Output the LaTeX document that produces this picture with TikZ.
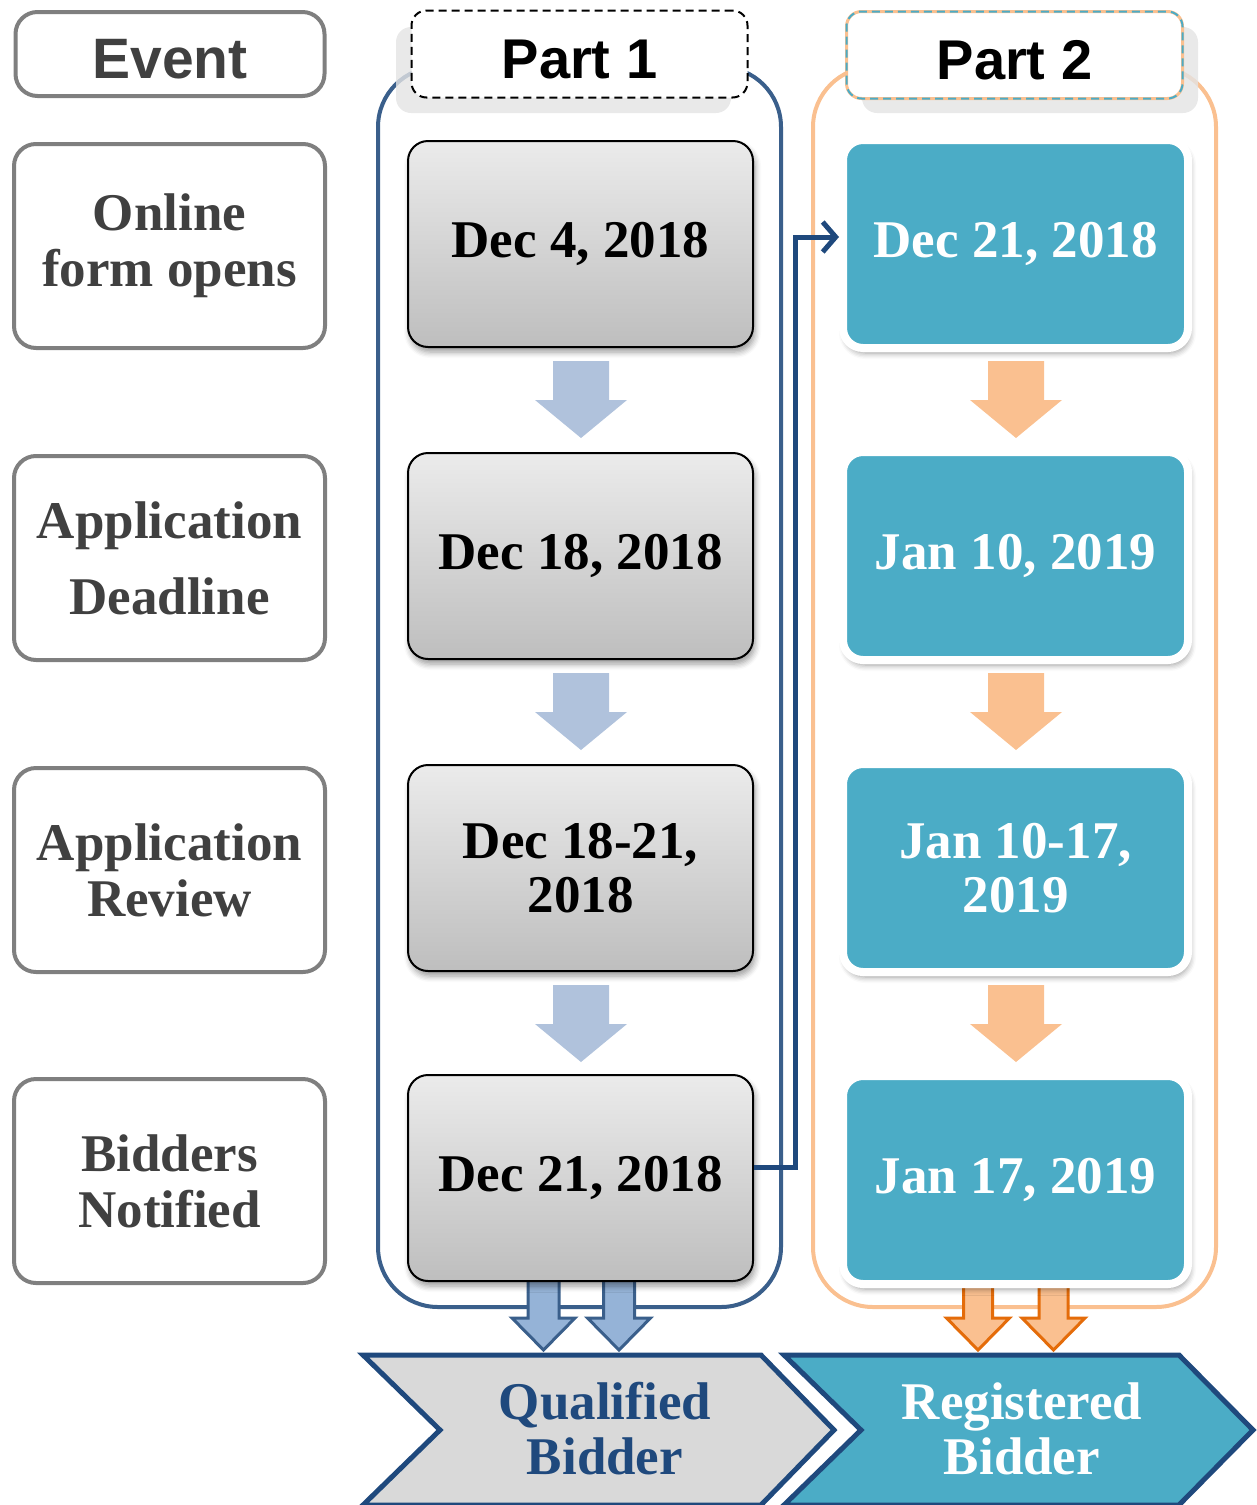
\documentclass[tikz,border=0pt]{standalone}
\usepackage{fontspec}
\setmainfont{Liberation Serif}
\setsansfont{Liberation Sans}
\usetikzlibrary{shadows.blur}
\usetikzlibrary{arrows.meta}
\definecolor{evgray}{HTML}{7F7F7F}
\definecolor{evtext}{HTML}{404040}
\definecolor{partblue}{HTML}{3A5F8B}
\definecolor{darkblue}{HTML}{1F497D}
\definecolor{arrblue}{HTML}{B0C2DC}
\definecolor{downblue}{HTML}{95B3D7}
\definecolor{peach}{HTML}{FAC090}
\definecolor{darkorange}{HTML}{E46C0A}
\definecolor{tealc}{HTML}{4BACC6}
\definecolor{chevgray}{HTML}{D9D9D9}
\definecolor{hdshadow}{HTML}{E4E4E4}
\definecolor{boxtop}{HTML}{EBEBEB}
\definecolor{boxbot}{HTML}{BEBEBE}
\tikzset{%
	event/.style={draw=evgray,line width=4pt,rounded corners=22pt,fill=white,
		minimum width=311pt,minimum height=204pt,text=evtext,align=center,
		font=\bfseries\fontsize{53}{56}\selectfont},
	header/.style={draw,line width=2pt,fill=white,rounded corners=15pt,outer sep=0pt,
		minimum width=336pt,minimum height=87pt,text height=48pt,text depth=0pt,
		font=\sffamily\bfseries\fontsize{56}{60}\selectfont},
	datebox/.style={draw=black,line width=2pt,rounded corners=20pt,
		top color=boxtop,bottom color=boxbot,
		blur shadow={shadow xshift=2pt,shadow yshift=-5pt,shadow blur radius=6pt,shadow blur steps=5},
		minimum width=345pt,minimum height=206pt,align=center,
		font=\bfseries\fontsize{53}{54}\selectfont},
	tealbox/.style={draw=white,line width=8pt,rounded corners=20pt,fill=tealc,
		blur shadow={shadow xshift=2pt,shadow yshift=-5pt,shadow blur radius=6pt,shadow blur steps=5},
		minimum width=345pt,minimum height=208pt,align=center,text=white,
		font=\bfseries\fontsize{53}{54}\selectfont},
	chevron/.style={draw=darkblue,line width=5pt},
	result/.style={align=center,font=\bfseries\fontsize{53}{55}\selectfont}
}

\begin{document}
\begin{tikzpicture}[x=1pt,y=-1pt]
	\useasboundingbox (0,0) rectangle (1257,1505);

	% event column
	\node [event,minimum width=309pt,minimum height=84pt,text height=49pt,text depth=0pt,
		font=\sffamily\bfseries\fontsize{57}{60}\selectfont] (event) at (170,54) {Event};
	\node [event] (e1) at (169.5,246) {Online\\form opens};
	\node [event] (e2) at (169.5,558) {Application\\[20pt]Deadline};
	\node [event] (e3) at (169.5,870) {Application\\Review};
	\node [event] (e4) at (169.5,1181) {Bidders\\Notified};

	% part frames
	\draw [partblue,line width=4pt,rounded corners=60pt] (378,67) rectangle (781,1307);
	\draw [peach,line width=4pt,rounded corners=60pt] (813,67) rectangle (1216,1307);

	\fill [hdshadow,opacity=0.8,rounded corners=15pt] (396,27) rectangle (731,113);
	\fill [hdshadow,opacity=0.8,rounded corners=15pt] (862,27) rectangle (1198,113);

	\node [header,dash pattern=on 8pt off 5pt] (p1) at (579.5,54) {Part 1};
	\node [header,draw=peach,line width=3pt] (p2) at (1014.5,55) {Part 2};
	\draw [tealc,line width=2pt,dash pattern=on 8pt off 5pt,rounded corners=15pt] (p2.south west) rectangle (p2.north east);

	% arrows out of the frames
	\foreach \x in {543.5,619}
		\draw [partblue,fill=downblue,line width=3pt] (\x-15.5,1270)--(\x+15.5,1270)--(\x+15.5,1318)--(\x+31.5,1318)
			--(\x,1350)--(\x-31.5,1318)--(\x-15.5,1318)--cycle;
	\foreach \x in {978,1053.5}
		\draw [darkorange,fill=peach,line width=3pt] (\x-14.5,1270)--(\x+14.5,1270)--(\x+14.5,1318)--(\x+31.5,1318)
			--(\x,1350)--(\x-31.5,1318)--(\x-14.5,1318)--cycle;

	% dates
	\node [datebox] (d1) at (580.5,244) {Dec 4, 2018};
	\node [datebox] (d2) at (580.5,556) {Dec 18, 2018};
	\node [datebox] (d3) at (580.5,868) {Dec 18-21,\\2018};
	\node [datebox] (d4) at (580.5,1178) {Dec 21, 2018};

	\node [tealbox] (t1) at (1015.5,244) {Dec 21, 2018};
	\node [tealbox] (t2) at (1015.5,556) {Jan 10, 2019};
	\node [tealbox] (t3) at (1015.5,868) {Jan 10-17,\\2019};
	\node [tealbox] (t4) at (1015.5,1180) {Jan 17, 2019};

	\foreach \y in {361,673,985} {
		\fill [arrblue] (553,\y)--(609,\y)--(609,\y+39)--(627,\y+39)--(581,\y+77)--(535,\y+39)--(553,\y+39)--cycle;
		\fill [peach] (988,\y)--(1044,\y)--(1044,\y+39)--(1062,\y+39)--(1016,\y+77)--(970,\y+39)--(988,\y+39)--cycle;
	}

	\draw [darkblue,line width=5pt,line join=miter,-{Straight Barb[length=13pt,width=30pt,line width=5pt]}]
		([yshift=11pt]d4.east) -- ++(41,0) |- ([yshift=7pt]t1.west);

	% results
	\draw [chevron,fill=chevgray] (363,1355)--(761,1355)--(834,1430)--(761,1505)--(363,1505)--(440,1430)--cycle;
	\draw [chevron,fill=tealc] (784,1355)--(1179,1355)--(1253,1430)--(1179,1505)--(784,1505)--(861,1430)--cycle;
	\node [result,text=darkblue] (qual) at (605,1429) {Qualified\\Bidder};
	\node [result,text=white] (reg) at (1022,1429) {Registered\\Bidder};

\end{tikzpicture}
\end{document}
